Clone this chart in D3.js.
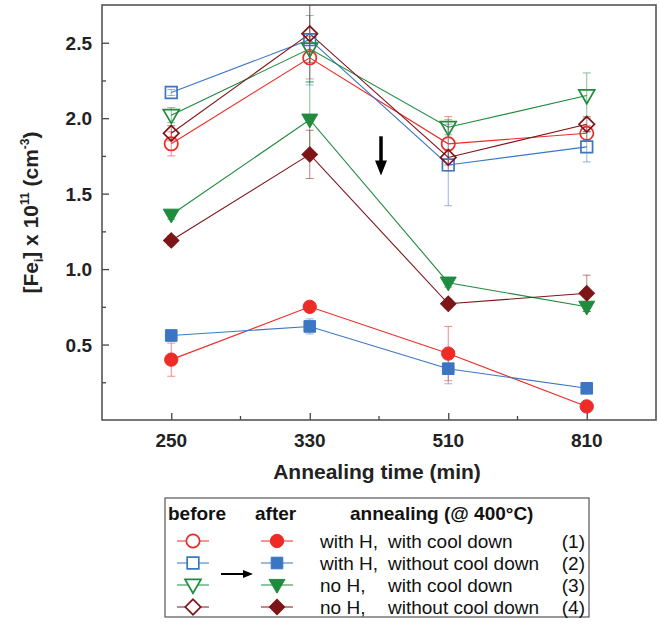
<!DOCTYPE html>
<html>
<head>
<meta charset="utf-8">
<script src="https://cdn.jsdelivr.net/npm/d3@7"></script>
<style>
  body { margin: 0; background: #fff; }
  svg text { font-family: "Liberation Sans", Arial, sans-serif; white-space: pre; }
</style>
</head>
<body>
<svg id="chart" width="659" height="629"></svg>
<script>
// annealing times (categories)
let times = ["250", "330", "510", "810"];
let y_ticks = [0.5, 1.0, 1.5, 2.0, 2.5];

// before annealing (open symbols)
let before_1 = [1.83, 2.40, 1.83, 1.90];
let before_2 = [2.17, 2.52, 1.69, 1.81];
let before_3 = [2.02, 2.46, 1.94, 2.15];
let before_4 = [1.90, 2.56, 1.74, 1.96];
let before_1_err = [0.08, 0.14, 0.18, 0.05];
let before_2_err = [0.02, 0.30, 0.27, 0.10];
let before_3_err = [0.05, 0.22, 0.05, 0.15];
let before_4_err = [0.05, 0.19, 0.05, 0.05];

// after annealing (filled symbols)
let after_1 = [0.40, 0.75, 0.44, 0.09];
let after_2 = [0.56, 0.62, 0.34, 0.21];
let after_3 = [1.36, 1.99, 0.91, 0.75];
let after_4 = [1.19, 1.76, 0.77, 0.84];
let after_1_err = [0.11, 0.02, 0.18, 0.03];
let after_2_err = [0.03, 0.05, 0.10, 0.02];
let after_3_err = [0.03, 0.25, 0.03, 0.03];
let after_4_err = [0.03, 0.16, 0.03, 0.12];

// legend texts
let legend_head = ["before", "after", "annealing (@ 400°C)"];
let legend_pre = ["with H,", "with H,", "no H,", "no H,"];
let legend_post = ["with cool down", "without cool down", "with cool down", "without cool down"];
let legend_num = ["(1)", "(2)", "(3)", "(4)"];

let colors = ["#ee2b27", "#3b76c3", "#1f8b3d", "#7d1518"];
let shapes = ["circle", "square", "triangle", "diamond"];

let chart = d3.select("#chart");
let margin = {left: 102, right: 656, top: 5, bottom: 420};

let x = d3.scalePoint()
    .domain(times)
    .range([margin.left, margin.right])
    .padding(0.5);

let y = d3.scaleLinear()
    .domain([0, 2.75])
    .range([margin.bottom, margin.top]);

let series = [
  {vals: before_1, err: before_1_err, k: 0, open: true},
  {vals: before_2, err: before_2_err, k: 1, open: true},
  {vals: before_3, err: before_3_err, k: 2, open: true},
  {vals: before_4, err: before_4_err, k: 3, open: true},
  {vals: after_1, err: after_1_err, k: 0, open: false},
  {vals: after_2, err: after_2_err, k: 1, open: false},
  {vals: after_3, err: after_3_err, k: 2, open: false},
  {vals: after_4, err: after_4_err, k: 3, open: false}
];

function symbolPath(shape) {
  if (shape == "circle") return d3.symbol(d3.symbolCircle, 140)();
  if (shape == "square") return d3.symbol(d3.symbolSquare, 135)();
  if (shape == "triangle") return d3.symbol(d3.symbolTriangle, 110)();
  return d3.symbol(d3.symbolSquare, 120)();
}
function symbolRotate(shape) {
  if (shape == "triangle") return " rotate(180) translate(0,1)";
  if (shape == "diamond") return " rotate(45)";
  return "";
}

// clip for plot area
chart.append("clipPath").attr("id", "clip")
  .append("rect")
    .attr("x", margin.left).attr("y", margin.top)
    .attr("width", margin.right - margin.left)
    .attr("height", margin.bottom - margin.top);

let plot = chart.append("g").attr("clip-path", "url(#clip)");

// error bars
series.forEach(function(s) {
  let g = plot.append("g")
    .attr("stroke", colors[s.k])
    .attr("stroke-width", 0.9)
    .attr("stroke-opacity", 0.6);
  times.forEach(function(t, i) {
    let cx = x(t);
    let lo = y(s.vals[i] - s.err[i]), hi = y(s.vals[i] + s.err[i]);
    g.append("line").attr("x1", cx).attr("x2", cx).attr("y1", lo).attr("y2", hi);
    g.append("line").attr("x1", cx - 4).attr("x2", cx + 4).attr("y1", lo).attr("y2", lo);
    g.append("line").attr("x1", cx - 4).attr("x2", cx + 4).attr("y1", hi).attr("y2", hi);
  });
});

// lines
let line = d3.line()
  .x(function(d, i) { return x(times[i]); })
  .y(function(d) { return y(d); });

series.forEach(function(s) {
  plot.append("path")
    .datum(s.vals)
    .attr("d", line)
    .attr("fill", "none")
    .attr("stroke", colors[s.k])
    .attr("stroke-width", 1.1);
});

// markers
series.forEach(function(s) {
  plot.selectAll(null)
    .data(s.vals).enter()
    .append("path")
      .attr("d", symbolPath(shapes[s.k]))
      .attr("transform", function(d, i) {
        return "translate(" + x(times[i]) + "," + y(d) + ")" + symbolRotate(shapes[s.k]);
      })
      .attr("fill", s.open ? "#fff" : colors[s.k])
      .attr("fill-opacity", s.open ? 0 : 1)
      .attr("stroke", colors[s.k])
      .attr("stroke-width", s.open ? 1.7 : 1);
});

// arrow annotation
let ax = (x("330") + x("510")) / 2 + 2;
chart.append("line")
  .attr("x1", ax).attr("x2", ax)
  .attr("y1", y(1.88)).attr("y2", y(1.70))
  .attr("stroke", "#000").attr("stroke-width", 3.5);
chart.append("path")
  .attr("d", "M" + (ax - 6) + "," + y(1.72) + "L" + (ax + 6) + "," + y(1.72) + "L" + ax + "," + y(1.62) + "Z")
  .attr("fill", "#000");

// axes (ticks inside)
let yAxis = chart.append("g")
  .attr("transform", "translate(" + margin.left + ",0)")
  .call(d3.axisRight(y).tickValues(d3.range(0.25, 2.75, 0.25)).tickSize(4).tickFormat(""));
yAxis.selectAll(".tick line")
  .attr("x2", function(d) { return y_ticks.some(function(v) { return Math.abs(v - d) < 1e-6; }) ? 7 : 4; });
yAxis.select(".domain").remove();
yAxis.selectAll(".tick line").attr("stroke", "#444").attr("stroke-width", 1.3);

chart.append("g").selectAll("text")
  .data(y_ticks).enter()
  .append("text")
    .attr("x", margin.left - 10)
    .attr("y", function(d) { return y(d) + 7; })
    .attr("text-anchor", "end")
    .attr("font-size", 19)
    .attr("font-weight", "bold")
    .attr("fill", "#222")
    .text(function(d) { return d.toFixed(1); });

let xAxis = chart.append("g")
  .attr("transform", "translate(0," + margin.bottom + ")")
  .call(d3.axisTop(x).tickSize(7).tickFormat(""));
xAxis.select(".domain").remove();
xAxis.selectAll(".tick line").attr("stroke", "#444").attr("stroke-width", 1.3);

// minor x ticks between categories
let step = x.step();
chart.append("g").selectAll("line")
  .data(times.slice(0, -1)).enter()
  .append("line")
    .attr("x1", function(d) { return x(d) + step / 2; })
    .attr("x2", function(d) { return x(d) + step / 2; })
    .attr("y1", margin.bottom).attr("y2", margin.bottom - 4)
    .attr("stroke", "#444").attr("stroke-width", 1.3);

chart.append("g").selectAll("text")
  .data(times).enter()
  .append("text")
    .attr("x", function(d) { return x(d); })
    .attr("y", margin.bottom + 27)
    .attr("text-anchor", "middle")
    .attr("font-size", 19)
    .attr("font-weight", "bold")
    .attr("fill", "#222")
    .text(function(d) { return d; });

// frame
chart.append("rect")
  .attr("x", margin.left).attr("y", margin.top)
  .attr("width", margin.right - margin.left)
  .attr("height", margin.bottom - margin.top)
  .attr("fill", "none")
  .attr("stroke", "#555")
  .attr("stroke-width", 1.6);

// axis titles
chart.append("text")
  .attr("x", (margin.left + margin.right) / 2 - 2)
  .attr("y", 479)
  .attr("text-anchor", "middle")
  .attr("font-size", 21)
  .attr("font-weight", "bold")
  .attr("fill", "#222")
  .text("Annealing time (min)");

let ylab = chart.append("text")
  .attr("transform", "translate(38," + ((margin.top + margin.bottom) / 2) + ") rotate(-90)")
  .attr("text-anchor", "middle")
  .attr("font-size", 21)
  .attr("font-weight", "bold")
  .attr("fill", "#222");
ylab.append("tspan").text("[Fe");
ylab.append("tspan").attr("font-size", 12).attr("dy", 5).text("i");
ylab.append("tspan").attr("dy", -5).text("] x 10");
ylab.append("tspan").attr("font-size", 12).attr("dy", -9).text("11");
ylab.append("tspan").attr("dy", 9).text(" (cm");
ylab.append("tspan").attr("font-size", 12).attr("dy", -9).text("-3");
ylab.append("tspan").attr("dy", 9).text(")");

// legend
let leg = chart.append("g");
leg.append("rect")
  .attr("x", 165).attr("y", 498)
  .attr("width", 424).attr("height", 119)
  .attr("fill", "#fff")
  .attr("stroke", "#555")
  .attr("stroke-width", 1.2);

let headX = [168, 255, 350];
leg.selectAll(".head")
  .data(legend_head).enter()
  .append("text")
    .attr("x", function(d, i) { return headX[i]; })
    .attr("y", 520)
    .attr("font-size", 19)
    .attr("font-weight", "bold")
    .attr("fill", "#111")
    .text(function(d) { return d; });

let rowY = d3.scalePoint().domain([0, 1, 2, 3]).range([541, 607]);

[0, 1, 2, 3].forEach(function(k) {
  let cy = rowY(k);
  [193, 277].forEach(function(cx, j) {
    leg.append("line")
      .attr("x1", cx - 16).attr("x2", cx + 16)
      .attr("y1", cy).attr("y2", cy)
      .attr("stroke", colors[k]).attr("stroke-width", 1);
    leg.append("path")
      .attr("d", symbolPath(shapes[k]))
      .attr("transform", "translate(" + cx + "," + cy + ")" + symbolRotate(shapes[k]))
      .attr("fill", j == 0 ? "#fff" : colors[k])
      .attr("stroke", colors[k])
      .attr("stroke-width", j == 0 ? 1.7 : 1);
  });
  leg.append("text").attr("x", 320).attr("y", cy + 7)
    .attr("font-size", 19).attr("fill", "#111").text(legend_pre[k]);
  leg.append("text").attr("x", 388).attr("y", cy + 7)
    .attr("font-size", 19).attr("fill", "#111").text(legend_post[k]);
  leg.append("text").attr("x", 585).attr("y", cy + 7)
    .attr("text-anchor", "end")
    .attr("font-size", 19).attr("fill", "#111").text(legend_num[k]);
});

// legend arrow before -> after
let ly = (rowY(1) + rowY(2)) / 2;
leg.append("line").attr("x1", 221).attr("x2", 244).attr("y1", ly).attr("y2", ly)
  .attr("stroke", "#000").attr("stroke-width", 2);
leg.append("path")
  .attr("d", "M243," + (ly - 4) + "L253," + ly + "L243," + (ly + 4) + "Z")
  .attr("fill", "#000");
</script>
</body>
</html>
